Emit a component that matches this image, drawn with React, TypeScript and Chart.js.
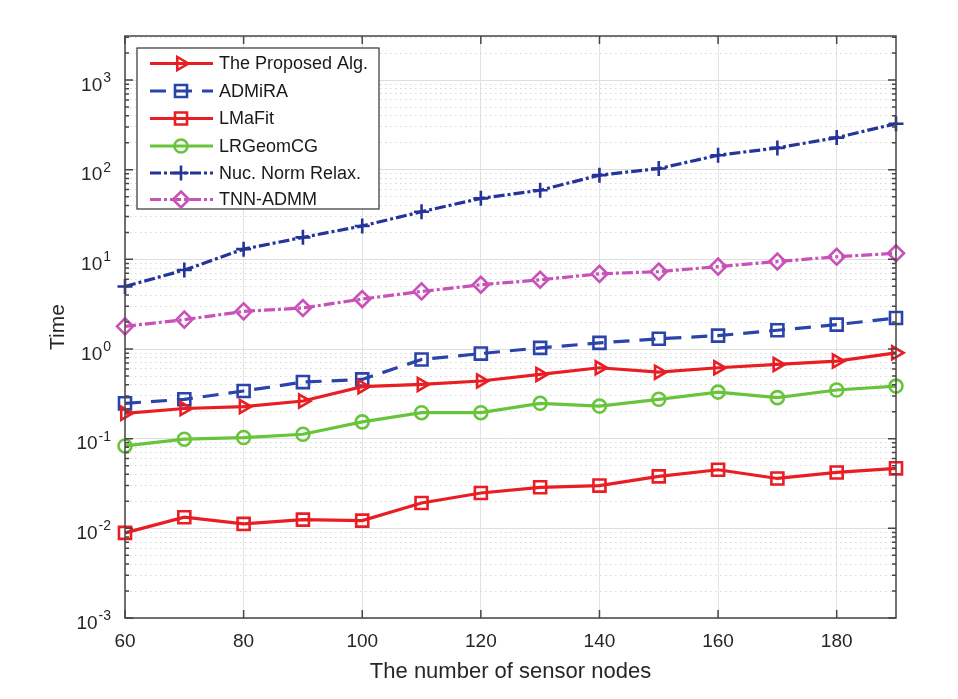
import React, { useEffect, useRef } from "react";
import { Chart, registerables } from "chart.js";

Chart.register(...registerables);

// ---------- data ----------
const nodes = [60, 70, 80, 90, 100, 110, 120, 130, 140, 150, 160, 170, 180, 190];
const proposedAlg = [0.192, 0.217, 0.228, 0.263, 0.38, 0.403, 0.44, 0.521, 0.618, 0.552, 0.618, 0.673, 0.733, 0.907];
const admira = [0.248, 0.275, 0.34, 0.428, 0.458, 0.764, 0.89, 1.03, 1.17, 1.3, 1.41, 1.62, 1.87, 2.22];
const lmafit = [0.0089, 0.0133, 0.0112, 0.0125, 0.0122, 0.0192, 0.0248, 0.0287, 0.03, 0.038, 0.045, 0.036, 0.042, 0.0467];
const lrgeomcg = [0.083, 0.0987, 0.103, 0.112, 0.154, 0.195, 0.195, 0.248, 0.231, 0.275, 0.331, 0.287, 0.349, 0.386];
const nucNormRelax = [4.99, 7.6, 13.0, 17.6, 23.6, 34, 47.9, 59, 87, 103, 145, 175, 228, 326];
const tnnAdmm = [1.79, 2.13, 2.63, 2.87, 3.61, 4.39, 5.21, 5.92, 6.9, 7.3, 8.3, 9.46, 10.7, 11.7];

const xTickValues = [60, 80, 100, 120, 140, 160, 180];
const yDecadeExponents = [-3, -2, -1, 0, 1, 2, 3];
const xLabel = "The number of sensor nodes";
const yLabel = "Time";

const X_MIN = 60;
const X_MAX = 190;
const Y_MIN = 0.001;
const Y_MAX = 3100;

const isDecade = (v: number) => {
  const l = Math.log10(v);
  return Math.abs(l - Math.round(l)) < 1e-6;
};

const FONT = "'Liberation Sans', Arial, Helvetica, sans-serif";
const TEXT = "#262626";

const RED = "rgb(233,30,36)";
const BLUE1 = "rgb(42,68,170)";
const BLUE2 = "rgb(36,52,152)";
const GREEN = "rgb(104,196,58)";
const MAGENTA = "rgb(200,82,184)";

function drawMarker(ctx: CanvasRenderingContext2D, style: string, x: number, y: number, r: number, rot: number) {
  ctx.beginPath();
  if (style === "triangle") {
    if (rot === 90) {
      ctx.moveTo(x + r, y);
      ctx.lineTo(x - r * 0.5, y - r * 0.87);
      ctx.lineTo(x - r * 0.5, y + r * 0.87);
    } else {
      ctx.moveTo(x, y - r);
      ctx.lineTo(x + r * 0.87, y + r * 0.5);
      ctx.lineTo(x - r * 0.87, y + r * 0.5);
    }
    ctx.closePath();
  } else if (style === "rect") {
    const s = r * Math.SQRT1_2;
    ctx.rect(x - s, y - s, 2 * s, 2 * s);
  } else if (style === "circle") {
    ctx.arc(x, y, r, 0, Math.PI * 2);
  } else if (style === "cross") {
    ctx.moveTo(x - r, y);
    ctx.lineTo(x + r, y);
    ctx.moveTo(x, y - r);
    ctx.lineTo(x, y + r);
  } else if (style === "rectRot") {
    ctx.moveTo(x, y - r);
    ctx.lineTo(x + r, y);
    ctx.lineTo(x, y + r);
    ctx.lineTo(x - r, y);
    ctx.closePath();
  }
  ctx.stroke();
}

const boxPlugin = {
  id: "matlabBox",
  afterDatasetsDraw(chart: any) {
    const { ctx } = chart;
    ctx.save();
    // legend
    const lx = 137, ly = 48, lw = 242, lh = 161;
    ctx.fillStyle = "#ffffff";
    ctx.fillRect(lx, ly, lw, lh);
    ctx.strokeStyle = "#333333";
    ctx.lineWidth = 1.2;
    ctx.setLineDash([]);
    ctx.strokeRect(lx, ly, lw, lh);
    const rows = [63.5, 91, 118.5, 146, 173, 199.5];
    chart.data.datasets.forEach((ds: any, i: number) => {
      const y = rows[i];
      ctx.strokeStyle = ds.borderColor;
      ctx.lineWidth = ds.borderWidth;
      ctx.setLineDash(ds.borderDash || []);
      ctx.beginPath();
      ctx.moveTo(150, y);
      ctx.lineTo(213, y);
      ctx.stroke();
      ctx.setLineDash([]);
      ctx.lineWidth = ds.pointBorderWidth;
      drawMarker(ctx, ds.pointStyle, 181, y, ds.pointRadius, ds.pointRotation || 0);
      ctx.fillStyle = "#1a1a1a";
      ctx.font = `18px ${FONT}`;
      ctx.textBaseline = "middle";
      ctx.textAlign = "left";
      ctx.fillText(ds.label, 219, y + 1);
    });
    ctx.restore();
  },
  afterDraw(chart: any) {
    const { ctx, chartArea: a, scales } = chart;
    ctx.save();
    ctx.strokeStyle = "#4a4444";
    ctx.lineWidth = 1.5;
    ctx.setLineDash([]);
    const ys = scales.y;
    ys.ticks.forEach((t: any) => {
      const p = ys.getPixelForValue(t.value);
      const len = isDecade(t.value) ? 8 : 4;
      ctx.beginPath();
      ctx.moveTo(a.left, p);
      ctx.lineTo(a.left + len, p);
      ctx.moveTo(a.right, p);
      ctx.lineTo(a.right - len, p);
      ctx.stroke();
    });
    const xs = scales.x;
    xs.ticks.forEach((t: any) => {
      const p = xs.getPixelForValue(t.value);
      ctx.beginPath();
      ctx.moveTo(p, a.bottom);
      ctx.lineTo(p, a.bottom - 8);
      ctx.moveTo(p, a.top);
      ctx.lineTo(p, a.top + 8);
      ctx.stroke();
    });
    ctx.strokeRect(a.left, a.top, a.right - a.left, a.bottom - a.top);

    // y tick labels: 10 with raised exponent
    ctx.fillStyle = TEXT;
    ctx.textBaseline = "alphabetic";
    ys.ticks.forEach((t: any) => {
      if (!isDecade(t.value)) return;
      const e = String(Math.round(Math.log10(t.value)));
      const p = ys.getPixelForValue(t.value);
      const rightEdge = a.left - 14;
      ctx.font = `14px ${FONT}`;
      const ew = ctx.measureText(e).width;
      ctx.textAlign = "left";
      const ex = rightEdge - ew;
      ctx.fillText(e, ex, p + 2);
      ctx.font = `19px ${FONT}`;
      ctx.textAlign = "right";
      ctx.fillText("10", ex - 1, p + 10.5);
    });
    ctx.restore();
  },
};

export default function App() {
  const ref = useRef<HTMLCanvasElement | null>(null);

  useEffect(() => {
    if (!ref.current) return;
    const mk = (arr: number[]) => arr.map((v, i) => ({ x: nodes[i], y: v }));
    const common = {
      borderWidth: 3.2,
      pointBorderWidth: 2.6,
      pointBackgroundColor: "rgba(0,0,0,0)",
      pointRadius: 7,
      pointHoverRadius: 7,
      fill: false,
      tension: 0,
      clip: false,
    };
    const chart = new Chart(ref.current, {
      type: "line",
      data: {
        datasets: [
          { ...common, label: "The Proposed Alg.", data: mk(proposedAlg), borderColor: RED, pointBorderColor: RED, pointStyle: "triangle", pointRotation: 90, pointRadius: 7.5 },
          { ...common, label: "ADMiRA", data: mk(admira), borderColor: BLUE1, pointBorderColor: BLUE1, pointStyle: "rect", pointRadius: 8.5, borderDash: [16, 10] },
          { ...common, label: "LMaFit", data: mk(lmafit), borderColor: RED, pointBorderColor: RED, pointStyle: "rect", pointRadius: 8.5 },
          { ...common, label: "LRGeomCG", data: mk(lrgeomcg), borderColor: GREEN, pointBorderColor: GREEN, pointStyle: "circle", pointRadius: 6.5 },
          { ...common, label: "Nuc. Norm Relax.", data: mk(nucNormRelax), borderColor: BLUE2, pointBorderColor: BLUE2, pointStyle: "cross", pointRadius: 7.5, borderDash: [11, 3, 3, 3] },
          { ...common, label: "TNN-ADMM", data: mk(tnnAdmm), borderColor: MAGENTA, pointBorderColor: MAGENTA, pointStyle: "rectRot", pointRadius: 8, borderDash: [11, 3, 3, 3] },
        ] as any,
      },
      options: {
        animation: false,
        responsive: false,
        maintainAspectRatio: false,
        layout: { padding: { left: 38, top: 36, right: 62, bottom: 10 } },
        plugins: { legend: { display: false }, tooltip: { enabled: false } },
        scales: {
          x: {
            type: "linear",
            min: X_MIN,
            max: X_MAX,
            afterBuildTicks: (s: any) => {
              s.ticks = xTickValues.map((v) => ({ value: v }));
            },
            afterFit: (s: any) => {
              s.height = 71;
            },
            ticks: {
              autoSkip: false,
              maxRotation: 0,
              padding: 12,
              color: TEXT,
              font: { family: FONT, size: 19 },
              callback: (v: any) => String(v),
            },
            grid: { color: "#e2e2e2", lineWidth: 1, drawTicks: false },
            border: { display: false },
            title: {
              display: true,
              text: xLabel,
              color: TEXT,
              font: { family: FONT, size: 22 },
              padding: { top: 0, bottom: 4 },
            },
          },
          y: {
            type: "logarithmic",
            min: Y_MIN,
            max: Y_MAX,
            afterBuildTicks: (s: any) => {
              const t: any[] = [];
              yDecadeExponents.forEach((e) => {
                for (let m = 1; m <= 9; m++) {
                  const v = Number((m * Math.pow(10, e)).toPrecision(6));
                  if (v >= Y_MIN && v <= Y_MAX) t.push({ value: v });
                }
              });
              s.ticks = t;
            },
            afterFit: (s: any) => {
              s.width = 87;
            },
            ticks: {
              display: false,
              autoSkip: false,
            },
            grid: {
              drawTicks: false,
              lineWidth: 1,
              color: (c: any) => (c.tick && isDecade(c.tick.value) ? "#dedede" : "#d8d8d8"),
            },
            border: {
              display: false,
              dash: (c: any) => (c.tick && isDecade(c.tick.value) ? [] : [1.5, 3.5]),
            } as any,
            title: {
              display: true,
              text: yLabel,
              color: TEXT,
              font: { family: FONT, size: 21 },
              padding: { top: 8, bottom: 0 },
            },
          },
        },
      } as any,
      plugins: [boxPlugin],
    });
    return () => chart.destroy();
  }, []);

  return (
    <div style={{ position: "fixed", left: 0, top: 0, width: 958, height: 699, background: "#ffffff" }}>
      <canvas ref={ref} width={958} height={699} style={{ display: "block", width: 958, height: 699 }} />
    </div>
  );
}
